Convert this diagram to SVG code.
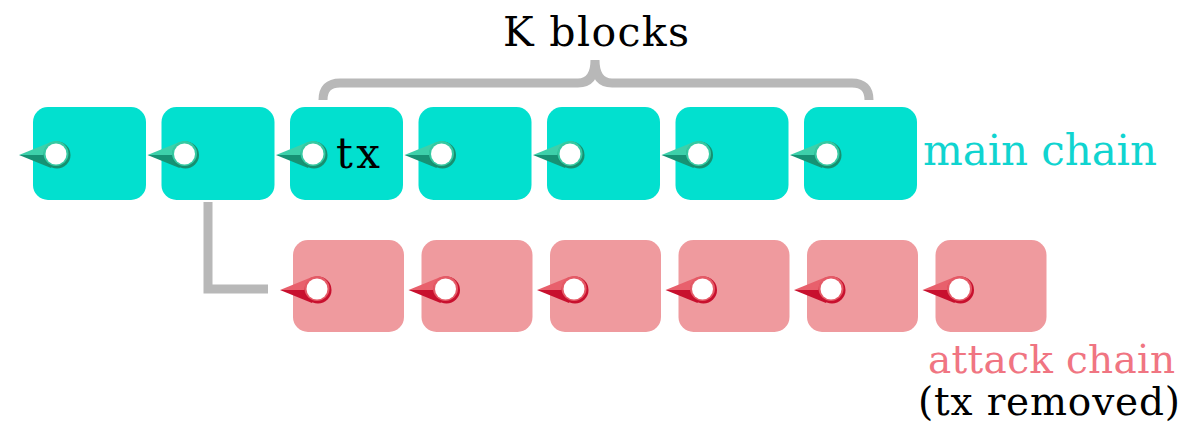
<svg xmlns="http://www.w3.org/2000/svg" width="1192" height="431" viewBox="0 0 1192 431">
<style>
.mb{fill:#02e0cf}
.ab{fill:#ef9a9e}
.t{font-family:"DejaVu Serif","Liberation Serif",serif}
.gray{fill:none;stroke:#b8b8b8;stroke-width:9}
</style>
<defs>
<g id="pm">
<path d="M-38,0 L-6,-13 L0,0 Z" fill="#3dd0aa"/>
<path d="M-38,0 L0,0 L-6,13 Z" fill="#169274"/>
<circle r="13.5" fill="#178f70"/>
<circle cx="-1" cy="-1.5" r="12.5" fill="#35c9a2"/>
<circle cx="-1" cy="-1" r="10.5" fill="#fff"/>
</g>
<g id="pa">
<path d="M-38,0 L-6,-13 L0,0 Z" fill="#e8606c"/>
<path d="M-38,0 L0,0 L-6,13 Z" fill="#c8102e"/>
<circle r="13.5" fill="#c8102e"/>
<circle cx="-1" cy="-1.5" r="12.5" fill="#e45a66"/>
<circle cx="-1" cy="-1" r="10.5" fill="#fff"/>
</g>
</defs>
<rect width="1192" height="431" fill="#fff"/>
<g id="connectors">
<path class="gray" d="M208,202 L208,289 L268,289"/>
</g>
<g id="brace">
<path class="gray" d="M323,100 Q323,83 340,83 L578,83 Q595,83 595,60 Q595,83 612,83 L852,83 Q869,83 869,100"/>
<text class="t" x="596" y="46" font-size="41" text-anchor="middle" textLength="186" fill="#000">K blocks</text>
</g>
<g id="m1"><rect class="mb" x="33" y="107" width="113" height="93" rx="15"/><use href="#pm" x="57" y="155"/></g>
<g id="m2"><rect class="mb" x="161.5" y="107" width="113" height="93" rx="15"/><use href="#pm" x="185.5" y="155"/></g>
<g id="m3"><rect class="mb" x="290" y="107" width="113" height="93" rx="15"/><use href="#pm" x="314" y="155"/><text class="t" x="336" y="168" font-size="42" textLength="44" fill="#000">tx</text></g>
<g id="m4"><rect class="mb" x="418.5" y="107" width="113" height="93" rx="15"/><use href="#pm" x="442.5" y="155"/></g>
<g id="m5"><rect class="mb" x="547" y="107" width="113" height="93" rx="15"/><use href="#pm" x="571" y="155"/></g>
<g id="m6"><rect class="mb" x="675.5" y="107" width="113" height="93" rx="15"/><use href="#pm" x="699.5" y="155"/></g>
<g id="m7"><rect class="mb" x="804" y="107" width="113" height="93" rx="15"/><use href="#pm" x="828" y="155"/></g>
<g id="a1"><rect class="ab" x="293" y="240" width="111" height="92" rx="15"/><use href="#pa" x="318" y="290"/></g>
<g id="a2"><rect class="ab" x="421.5" y="240" width="111" height="92" rx="15"/><use href="#pa" x="446.5" y="290"/></g>
<g id="a3"><rect class="ab" x="550" y="240" width="111" height="92" rx="15"/><use href="#pa" x="575" y="290"/></g>
<g id="a4"><rect class="ab" x="678.5" y="240" width="111" height="92" rx="15"/><use href="#pa" x="703.5" y="290"/></g>
<g id="a5"><rect class="ab" x="807" y="240" width="111" height="92" rx="15"/><use href="#pa" x="832" y="290"/></g>
<g id="a6"><rect class="ab" x="935.5" y="240" width="111" height="92" rx="15"/><use href="#pa" x="960.5" y="290"/></g>
<g id="labels">
<text class="t" x="923" y="165" font-size="42" textLength="234" fill="#10d4d0">main chain</text>
<text class="t" x="928" y="373" font-size="39" textLength="247" fill="#f07582">attack chain</text>
<text class="t" x="918" y="415" font-size="39" textLength="262" fill="#000">(tx removed)</text>
</g>
</svg>
